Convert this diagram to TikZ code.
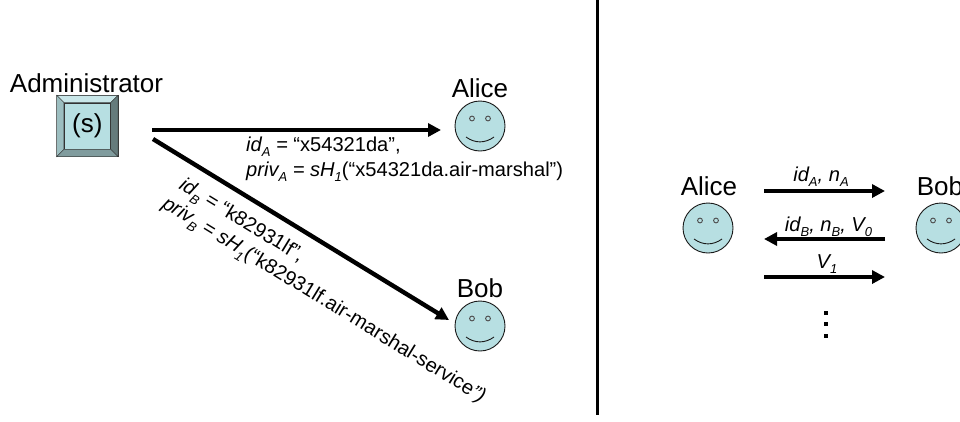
\documentclass[tikz,border=0pt]{standalone}
\usepackage{fontspec}
\setmainfont{Liberation Sans}
\usetikzlibrary{arrows.meta}
\definecolor{facecol}{RGB}{183,223,226}
\newcommand{\low}[1]{\raisebox{-0.28em}{\fontsize{13}{13}\selectfont #1}}
\tikzset{
    x=1pt, y=1pt,
    person/.style={font=\fontsize{26}{26}\selectfont, inner sep=0},
    info/.style={font=\fontsize{20.1}{20}\selectfont, inner sep=0, anchor=base west},
    message/.style={font=\fontsize{20.1}{20}\selectfont, inner sep=0, anchor=base},
    heavy/.style={line width=4.4pt, -{Triangle[length=13pt,width=13pt]}},
    smiley/.style={circle, draw=black!90, line width=0.9pt, fill=facecol, minimum size=50pt, inner sep=0,
        path picture={
            \draw[shift={(path picture bounding box.center)}, black!70, line width=0.9pt]
                (-8,7.5) circle (2.4) (8,7.5) circle (2.4);
            \draw[shift={(path picture bounding box.center)}, black!90, line width=0.9pt]
                (-14,-11) .. controls (-5,-17.5) and (5,-17.5) .. (14,-11);
        }}
}
\begin{document}
\begin{tikzpicture}
    \useasboundingbox (0,0) rectangle (960,-421);
    % key
    \node[draw=black!80, fill=facecol, minimum size=61pt, inner sep=0] (key) at (87.3,-126) {};
    \node[draw=black!80, fill=facecol, minimum size=46.5pt, inner sep=0, font=\fontsize{26}{26}\selectfont] (keyface) at (87.3,-126) {(s)};
    \filldraw[fill=facecol!75!white, draw=black!80] (key.north west) -- (key.north east) -- (keyface.north east) -- (keyface.north west) -- cycle;
    \filldraw[fill=facecol!85!black, draw=black!80] (key.north west) -- (key.south west) -- (keyface.south west) -- (keyface.north west) -- cycle;
    \filldraw[fill=facecol!55!black, draw=black!80] (key.north east) -- (key.south east) -- (keyface.south east) -- (keyface.north east) -- cycle;
    \filldraw[fill=facecol!70!black, draw=black!80] (key.south west) -- (key.south east) -- (keyface.south east) -- (keyface.south west) -- cycle;
    \node[person] (admin) at (86.5,-83) {Administrator};
    % left side
    \node[smiley] (alice) at (480,-126) {};
    \node[person] (alicename) at (480,-88) {Alice};
    \node[smiley] (bob) at (480,-326) {};
    \node[person] (bobname) at (480,-288) {Bob};
    \coordinate (topstart) at (152,-130);
    \coordinate (topend) at (441,-130);
    \coordinate (lowstart) at (153,-139);
    \coordinate (lowend) at (449,-320);
    \draw[heavy] (topstart) -- (topend);
    \draw[heavy] (lowstart) -- (lowend);
    \node[info] (ida) at (246,-151) {\textit{id\low{A} = }“x54321da”,};
    \node[info] (priva) at (246,-176) {\textit{priv\low{A} = sH\low{1}}(“x54321da.air-marshal”)};
    \node[info, rotate=-31.5] (idb) at (178,-188) {\textit{id\low{B} = }“k82931lf”,};
    \node[info, rotate=-31.5] (privb) at (161,-207) {\textit{priv\low{B} = sH\low{1}}(“k82931lf.air-marshal-service\textit{”)}};
    % divider
    \coordinate (divtop) at (597,0);
    \coordinate (divbottom) at (597,-415);
    \draw[line width=3pt] (divtop) -- (divbottom);
    % right side
    \node[smiley] (alicetwo) at (708,-228) {};
    \node[person] (alicetwoname) at (709,-186.5) {Alice};
    \node[smiley] (bobtwo) at (941,-228) {};
    \node[person] (bobtwoname) at (940,-186.5) {Bob};
    \coordinate (ma) at (764,-191);
    \coordinate (mb) at (885,-191);
    \coordinate (mc) at (885,-239);
    \coordinate (md) at (764,-239);
    \coordinate (me) at (764,-277);
    \coordinate (mf) at (885,-277);
    \draw[heavy] (ma) -- (mb);
    \draw[heavy] (mc) -- (md);
    \draw[heavy] (me) -- (mf);
    \node[message] (maone) at (821,-181) {\textit{id\low{A}, n\low{A}}};
    \node[message] (mbone) at (828.5,-231) {\textit{id\low{B}, n\low{B}, V\low{0}}};
    \node[message] (mcone) at (827,-268) {\textit{V\low{1}}};
    \foreach \y in {312.7,324.3,336}
        \fill (823.5,-\y-2) rectangle ++(4,4);
\end{tikzpicture}
\end{document}
